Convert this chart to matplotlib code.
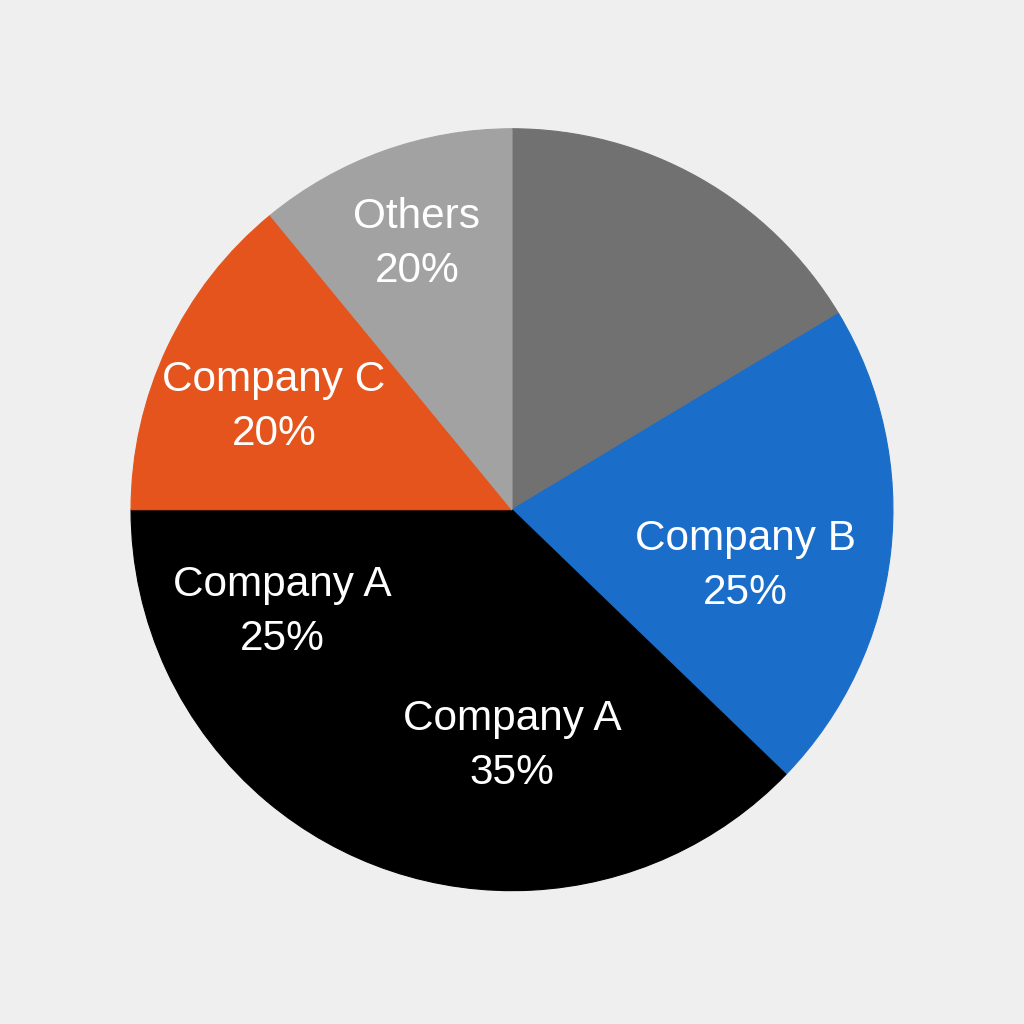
import numpy as np
import matplotlib.pyplot as plt

# slice sizes in degrees (clockwise from 12 o'clock)
sizes = [59, 75, 86, 50, 50.6, 39.4]
labels = ['', 'Company B\n25%', 'Company A\n35%', 'Company A\n25%', 'Company C\n20%', 'Others\n20%']
colors = ['#717171', '#1a6dc8', '#000000', '#000000', '#e4541c', '#a2a2a2']
label_r = [0.6, 0.63, 0.62, 0.66, 0.68, 0.74]
label_nudge = [0, -7, -3, -1, 2, 0]  # degrees

plt.rcParams['font.family'] = ['Liberation Sans', 'DejaVu Sans']

fig = plt.figure(figsize=(10.24, 10.24), dpi=100)
fig.patch.set_facecolor('#efefef')
ax = fig.add_axes([0, 0, 1, 1])
ax.set_facecolor('#efefef')

wedges, _ = ax.pie(sizes, colors=colors, startangle=90, counterclock=False)
for w in wedges:
    w.set_edgecolor(w.get_facecolor())
    w.set_linewidth(0.8)

for w, lab, r, d in zip(wedges, labels, label_r, label_nudge):
    if not lab:
        continue
    theta = np.deg2rad((w.theta1 + w.theta2) / 2 + d)
    ax.text(r * np.cos(theta), r * np.sin(theta), lab, ha='center', va='center',
            color='white', fontsize=30.5, linespacing=1.45)

ax.set_aspect('equal')
ax.set_xlim(-1.344, 1.344)
ax.set_ylim(-1.35, 1.338)
ax.axis('off')

fig.savefig('out.png', dpi=100, facecolor=fig.get_facecolor())
